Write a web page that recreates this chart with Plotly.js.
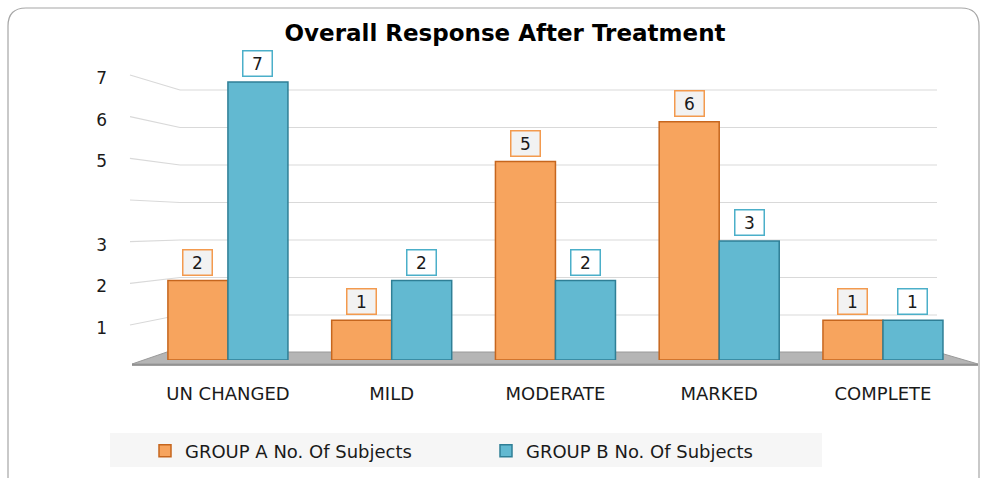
<!DOCTYPE html>
<html>
<head>
<meta charset="utf-8">
<script src="https://cdn.plot.ly/plotly-3.0.1.min.js"></script>
<style>html,body{margin:0;padding:0;background:#fff;}#chart{width:981px;height:478px;}</style>
</head>
<body>
<div id="chart"></div>
<script>
// ---- data ----
const categories = ["UN CHANGED", "MILD", "MODERATE", "MARKED", "COMPLETE"];
const groupA = [2, 1, 5, 6, 1];
const groupB = [7, 2, 2, 3, 1];
const seriesNames = ["GROUP A No. Of Subjects", "GROUP B No. Of Subjects"];
const gridValues = [1, 2, 3, 4, 5, 6, 7];
const yTickValues = [1, 2, 3, 5, 6, 7];
const yTickText = ["1", "2", "3", "5", "6", "7"];
const chartTitle = "Overall Response After Treatment";

// ---- layout geometry ----
const W = 981, H = 478;
const M = {l: 130, r: 6, t: 70, b: 118};
const PW = W - M.l - M.r, PH = H - M.t - M.b;
const barRange = [0, 7.305];      // front faces of bars
const gridRange = [-0.2, 7.533];  // back wall gridlines
const labelRange = [0.232, 7.192];// perspective labels at left
const px = p => (p - M.l) / PW;
const py = p => (H - M.b - p) / PH;
const frac = (v, r) => (v - r[0]) / (r[1] - r[0]);

const orange = "#F7A45E", orangeLine = "#C6661E";
const blue = "#62B9D1", blueLine = "#2F7F96";
const font = "DejaVu Sans, Verdana, sans-serif";

const shapes = [];
// outer rounded frame
(function(){
  const x0 = px(8), x1 = px(979), yt = py(8), yb = py(500);
  const rx = 18 / PW, ry = 18 / PH;
  shapes.push({type: "path", xref: "paper", yref: "paper", layer: "below",
    path: `M ${x0},${yb} L ${x0},${yt - ry} Q ${x0},${yt} ${x0 + rx},${yt} L ${x1 - rx},${yt} Q ${x1},${yt} ${x1},${yt - ry} L ${x1},${yb}`,
    line: {color: "#A6A6A6", width: 1.2}});
})();
// legend background
shapes.push({type: "rect", xref: "paper", yref: "paper", layer: "below",
  x0: px(110), x1: px(822), y0: py(433), y1: py(467), fillcolor: "#F6F6F6", line: {width: 0}});
// floor
shapes.push({type: "path", xref: "paper", yref: "paper", layer: "below",
  path: `M ${px(132)},${py(364)} L ${px(978)},${py(364)} L ${px(937)},${py(352)} L ${px(167)},${py(352)} Z`,
  fillcolor: "#B5B5B5", line: {color: "#9A9A9A", width: 1}});
shapes.push({type: "line", xref: "paper", yref: "paper", layer: "below",
  x0: px(132), x1: px(978), y0: py(365), y1: py(365), line: {color: "#7F7F7F", width: 1.5}});
// gridlines (back wall + perspective side segment)
gridValues.forEach(v => {
  const yg = frac(v, gridRange);
  const yl = frac(v, labelRange) + 3 / PH;
  shapes.push({type: "line", xref: "paper", yref: "paper", layer: "below",
    x0: px(180), x1: px(937), y0: yg, y1: yg, line: {color: "#D9D9D9", width: 1.2}});
  shapes.push({type: "line", xref: "paper", yref: "paper", layer: "below",
    x0: px(130), x1: px(180), y0: yl, y1: yg, line: {color: "#D9D9D9", width: 1.2}});
});

// value label boxes
const annotations = [];
function addLabels(vals, shift, border, bg) {
  vals.forEach((v, i) => annotations.push({
    x: categories[i], y: v, xref: "x", yref: "y", xshift: shift, yshift: 5,
    yanchor: "bottom", showarrow: false, text: String(v),
    font: {family: font, size: 17, color: "#1a1a1a"},
    bgcolor: bg, bordercolor: border, borderwidth: 1.5, borderpad: 2, width: 24, height: 20
  }));
}
addLabels(groupA, -30, "#F39A4E", "#F2F2F2");
addLabels(groupB, 30, "#4BAFC9", "#FFFFFF");

const traces = [
  {type: "bar", name: seriesNames[0], x: categories, y: groupA,
   marker: {color: orange, line: {color: orangeLine, width: 1.5}}, hoverinfo: "skip"},
  {type: "bar", name: seriesNames[1], x: categories, y: groupB,
   marker: {color: blue, line: {color: blueLine, width: 1.5}}, hoverinfo: "skip"},
  {type: "scatter", x: [], y: [], yaxis: "y2", showlegend: false, hoverinfo: "skip"}
];

const layout = {
  width: W, height: H,
  margin: M,
  paper_bgcolor: "#ffffff", plot_bgcolor: "rgba(0,0,0,0)",
  title: {text: "<b>" + chartTitle + "</b>", x: 505 / W, xanchor: "center",
          y: 1 - 33 / H, yanchor: "middle", font: {family: font, size: 23, color: "#000"}},
  barmode: "group", bargap: 0.267, bargroupgap: 0,
  showlegend: true,
  legend: {orientation: "h", x: px(145), xanchor: "left", y: py(451), yanchor: "middle",
           bgcolor: "rgba(0,0,0,0)", font: {family: font, size: 18, color: "#1a1a1a"},
           entrywidth: 296, itemclick: false, itemdoubleclick: false},
  xaxis: {type: "category", range: [-0.598, 4.562], showgrid: false, zeroline: false, showline: false,
          ticks: "", ticklabelstandoff: 21, tickfont: {family: font, size: 18, color: "#1a1a1a"}, fixedrange: true},
  yaxis: {range: barRange, showgrid: false, zeroline: false, showline: false, showticklabels: false, fixedrange: true},
  yaxis2: {range: labelRange, overlaying: "y", side: "left", tickmode: "array", tickvals: yTickValues,
           ticktext: yTickText, showgrid: false, zeroline: false, showline: false, ticks: "",
           ticklabelstandoff: 22, tickfont: {family: font, size: 17, color: "#1a1a1a"}, fixedrange: true},
  shapes: shapes, annotations: annotations
};

Plotly.newPlot("chart", traces, layout, {displayModeBar: false, staticPlot: true});
</script>
</body>
</html>
